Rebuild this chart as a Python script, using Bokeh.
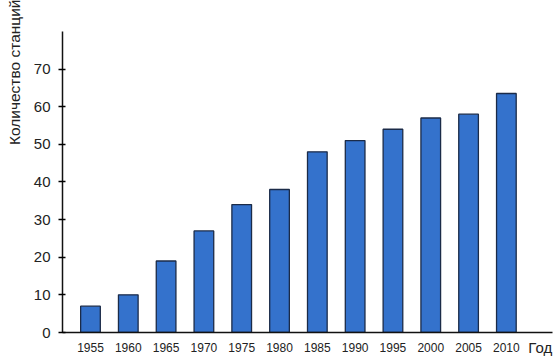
from bokeh.plotting import figure
from bokeh.models import Range1d, FixedTicker, Title, Label
from bokeh.embed import file_html
from bokeh.resources import INLINE

years = [1955, 1960, 1965, 1970, 1975, 1980, 1985, 1990, 1995, 2000, 2005, 2010]
stations = [7, 10, 19, 27, 34, 38, 48, 51, 54, 57, 58, 63.5]
y_ticks = [0, 10, 20, 30, 40, 50, 60, 70]
y_title = "Количество станций"
x_title = "Год"

FONT = "Liberation Sans"

p = figure(width=556, height=357, output_backend="svg", toolbar_location=None,
           x_range=Range1d(1951.3, 2016.1), y_range=Range1d(0, 83.7),
           min_border_left=62, min_border_right=4, min_border_top=0,
           min_border_bottom=25)

p.vbar(x=years, top=stations, width=2.6, fill_color="#3472cc",
       line_color="#1b2b48", line_width=1.3)

p.outline_line_color = None
p.grid.visible = False
p.background_fill_color = "white"

xa = p.xaxis[0]
xa.ticker = FixedTicker(ticks=years)
xa.major_tick_line_color = None
xa.minor_tick_line_color = None
xa.axis_line_width = 1.5
xa.axis_line_color = "#111111"
xa.major_label_text_font = FONT
xa.major_label_text_font_size = "12px"
xa.major_label_text_color = "#222222"
xa.major_label_standoff = 4

ya = p.yaxis[0]
ya.ticker = FixedTicker(ticks=y_ticks)
ya.bounds = (0, 80)
ya.major_tick_in = 3
ya.major_tick_out = 4
ya.major_tick_line_width = 1.5
ya.minor_tick_line_color = None
ya.axis_line_width = 1.5
ya.axis_line_color = "#111111"
ya.major_label_text_font = FONT
ya.major_label_text_font_size = "15px"
ya.major_label_text_color = "#222222"
ya.major_label_standoff = 8

p.add_layout(Title(text=y_title, align="right", vertical_align="top",
                   text_font=FONT, text_font_size="15.5px",
                   text_font_style="normal", text_color="#222222",
                   standoff=11, offset=-18), "left")

p.add_layout(Label(x=2012.9, y=0, y_offset=-6, text=x_title, text_font=FONT,
                   text_font_size="15px", text_color="#222222",
                   text_baseline="top", text_align="left"), "above")

open("out.html", "w").write(file_html(p, INLINE))
